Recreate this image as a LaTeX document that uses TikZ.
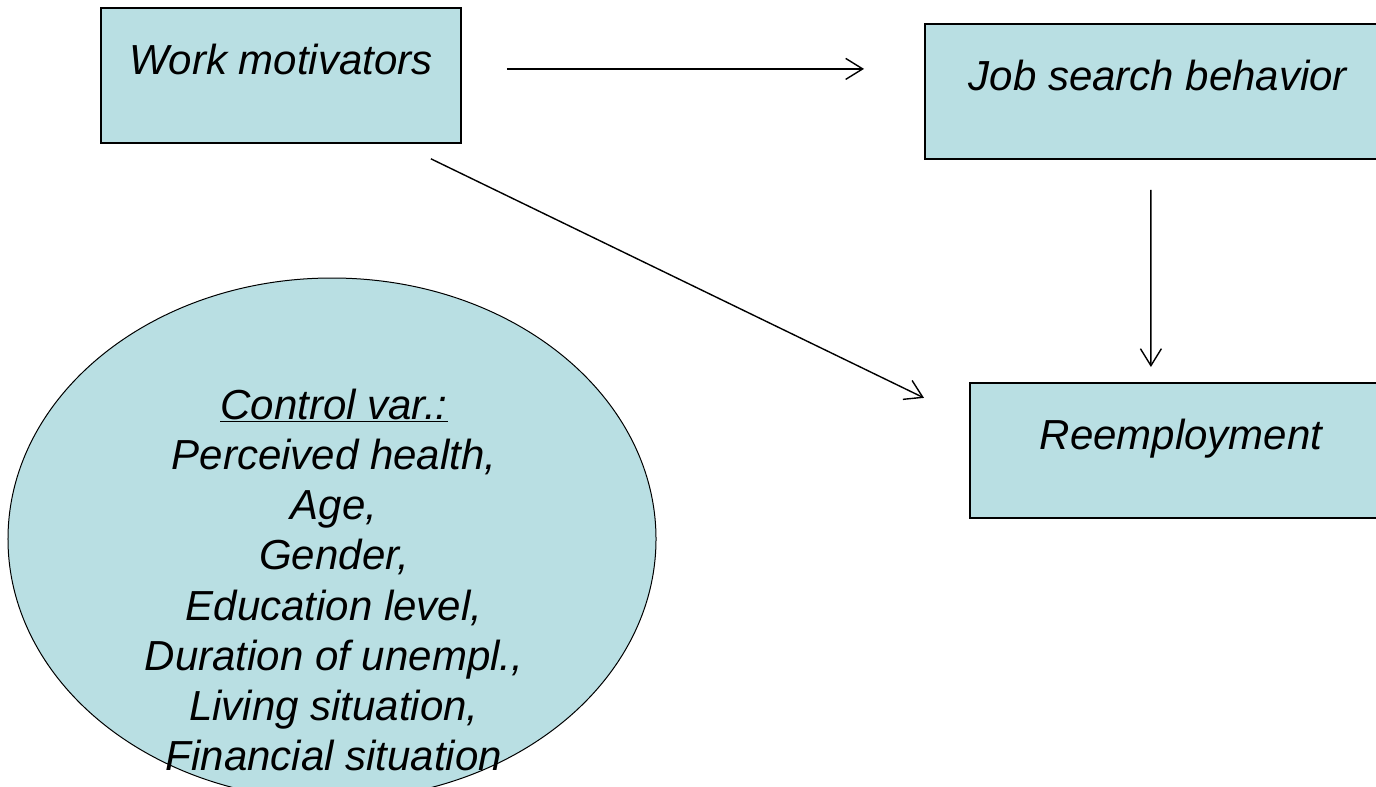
\documentclass[tikz,border=0pt]{standalone}
\usepackage{fontspec}
\setmainfont{Liberation Sans}
\usetikzlibrary{arrows.meta,shapes.geometric}
\definecolor{boxfill}{RGB}{185,223,227}
\tikzset{
  varbox/.style={draw=black, line width=1.8bp, fill=boxfill, rectangle, anchor=north west,
    inner xsep=0bp, inner ysep=37bp, text height=30bp, text depth=31bp,
    font=\fontsize{42bp}{50bp}\selectfont\itshape},
  ctrlshape/.style={draw=black, line width=1bp, fill=boxfill, ellipse, inner sep=0bp,
    minimum width=648bp, minimum height=522bp},
  ctrltext/.style={align=center, inner sep=0bp, font=\fontsize{42bp}{50.2bp}\selectfont\itshape},
  arr/.style={draw=black, line width=1.4bp, -{Straight Barb[length=17bp,width=21bp,line width=1.4bp]}}
}
\begin{document}
\begin{tikzpicture}[x=1bp,y=-1bp]
\useasboundingbox (0,0) rectangle (1376,786);
\node[varbox, minimum width=360bp] (wm) at (100,7) {Work motivators};
\node[varbox, minimum width=466bp] (jsb) at (924,23) {Job search behavior};
\node[varbox, minimum width=422bp] (re) at (969,382) {Reemployment};
\node[ctrlshape] (ctrl) at (332,539) {};
\node[ctrltext] (ctrllist) at (334,580) {\underline{Control var.:}\\Perceived health,\\Age,\\Gender,\\Education level,\\Duration of unempl.,\\Living situation,\\Financial situation};
\draw[arr] ([shift={(45,-6.5)}]wm.east) -- ([shift={(-60,-22.5)}]jsb.west);
\draw[arr] ([shift={(150,15)}]wm.south) -- ([shift={(-45,-52.5)}]re.west);
\draw[arr] ([shift={(-7,30)}]jsb.south) -- ([shift={(-30,-15)}]re.north);
\end{tikzpicture}
\end{document}
